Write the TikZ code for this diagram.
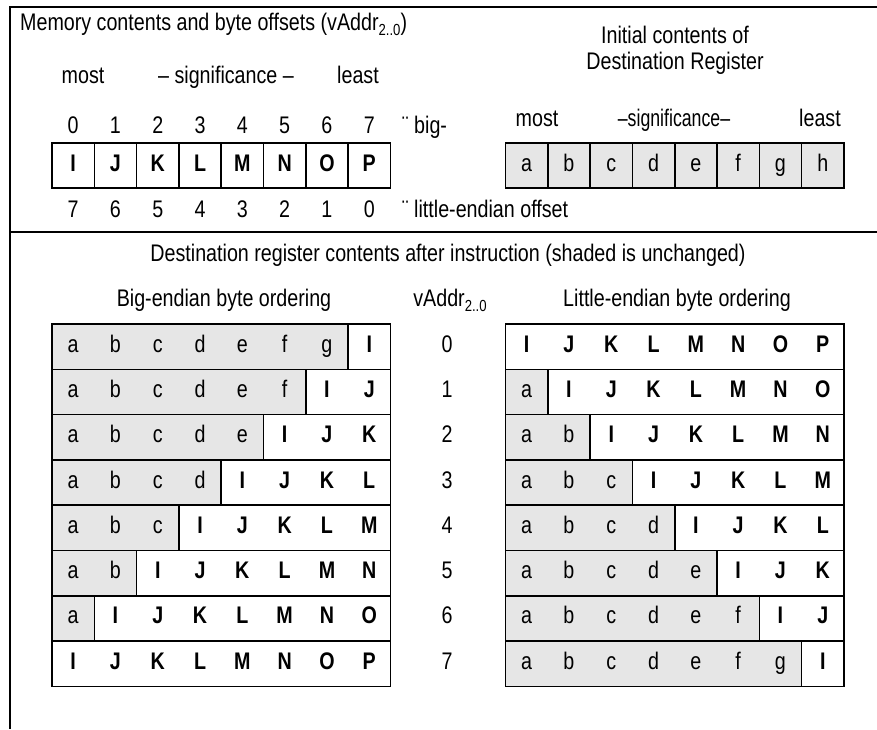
\documentclass[tikz,border=0pt]{standalone}
\usepackage{fontspec}
\setmainfont{Liberation Sans}[FakeStretch=0.82]
\usetikzlibrary{positioning,calc}
\definecolor{unchanged}{RGB}{230,230,230}
\newcommand\lowbyte[1]{\ifcase#1 a\or b\or c\or d\or e\or f\or g\or h\fi}
\newcommand\highbyte[1]{\ifcase#1 I\or J\or K\or L\or M\or N\or O\or P\fi}
\newcommand\vsub{\raisebox{-0.45ex}{\fontsize{16}{16}\selectfont 2..0}}

\begin{document}
\begin{tikzpicture}[x=1pt, y=-1pt,
  txt/.style={font=\fontsize{24}{28}\selectfont, inner sep=0pt, anchor=base},
  bytebox/.style={draw, line width=1.6pt, minimum width=42.3pt, minimum height=45.3pt, inner sep=0pt,
    text height=15pt, text depth=4pt, font=\fontsize{24}{28}\selectfont\bfseries},
  regbox/.style={bytebox, fill=unchanged, font=\fontsize{24}{28}\selectfont},
  oldchar/.style={inner sep=0pt, text height=15pt, text depth=4pt, font=\fontsize{24}{28}\selectfont},
  newchar/.style={oldchar, font=\fontsize{24}{28}\selectfont\bfseries},
  rowbox/.style={draw, line width=1.6pt},
  frame/.style={line width=2pt}
]
  \useasboundingbox (0,0) rectangle (877,729);

  % frame
  \draw[frame] (877,7) -- (10,7) -- (10,729);
  \draw[frame] (10,232) -- (877,232);

  % memory contents
  \node[txt, anchor=base west] (memtitle) at (20,30) {Memory contents and byte offsets (vAddr\vsub)};
  \node[txt] (mmost) at (83,83) {most};
  \node[txt] (msig) at (226,83) {– significance –};
  \node[txt] (mleast) at (358,83) {least};
  \foreach \ch [count=\i from 0] in {I,J,K,L,M,N,O,P} {
    \pgfmathtruncatemacro\little{7-\i}
    \node[bytebox] (mem-\i) at (73.15+42.3*\i,165.5) {\ch};
    \node[txt] (big-\i) at (73.15+42.3*\i,133) {\i};
    \node[txt] (little-\i) at (73.15+42.3*\i,217) {\little};
  }
  \node[txt, anchor=base west] (bigoff) at (402,133) {¨ big-};
  \node[txt, anchor=base west] (littleoff) at (402,217) {¨ little-endian offset};

  % initial destination register
  \node[txt] (init1) at (675,43) {Initial contents of};
  \node[txt] (init2) at (675,69) {Destination Register};
  \node[txt] (rmost) at (537,126) {most};
  \node[txt] (rsig) at (674,126) {\scalebox{0.9}[1]{–significance–}};
  \node[txt] (rleast) at (820,126) {least};
  \foreach \ch [count=\i from 0] in {a,b,c,d,e,f,g,h}
    \node[regbox] (reg-\i) at (526.65+42.3*\i,165.5) {\ch};

  % results after instruction
  \node[txt] (restitle) at (448,261) {Destination register contents after instruction (shaded is unchanged)};
  \node[txt] (bigtitle) at (224,306) {Big-endian byte ordering};
  \node[txt] (vaddr) at (450,306) {vAddr\vsub};
  \node[txt] (littletitle) at (677,306) {Little-endian byte ordering};

  \foreach \r in {0,...,7} {
    \pgfmathsetmacro\rowtop{324+45.3*\r}
    \pgfmathtruncatemacro\nbig{7-\r}
    % big-endian row
    \draw[rowbox] (52,\rowtop) rectangle ++(338.4,45.3);
    \ifnum\nbig>0 \draw[rowbox, fill=unchanged] (52,\rowtop) rectangle ++(42.3*\nbig,45.3); \fi
    % little-endian row
    \draw[rowbox] (505.5,\rowtop) rectangle ++(338.4,45.3);
    \ifnum\r>0 \draw[rowbox, fill=unchanged] (505.5,\rowtop) rectangle ++(42.3*\r,45.3); \fi
    \node[oldchar] (addr-\r) at (447,\rowtop+22.65) {\r};
    \foreach \i in {0,...,7} {
      \pgfmathtruncatemacro\kbig{\i-\nbig}
      \pgfmathtruncatemacro\klittle{\i-\r}
      \ifnum\i<\nbig
        \node[oldchar] (be-\r-\i) at (73.15+42.3*\i,\rowtop+22.65) {\lowbyte{\i}};
      \else
        \node[newchar] (be-\r-\i) at (73.15+42.3*\i,\rowtop+22.65) {\highbyte{\kbig}};
      \fi
      \ifnum\i<\r
        \node[oldchar] (le-\r-\i) at (526.65+42.3*\i,\rowtop+22.65) {\lowbyte{\i}};
      \else
        \node[newchar] (le-\r-\i) at (526.65+42.3*\i,\rowtop+22.65) {\highbyte{\klittle}};
      \fi
    }
  }
\end{tikzpicture}
\end{document}
